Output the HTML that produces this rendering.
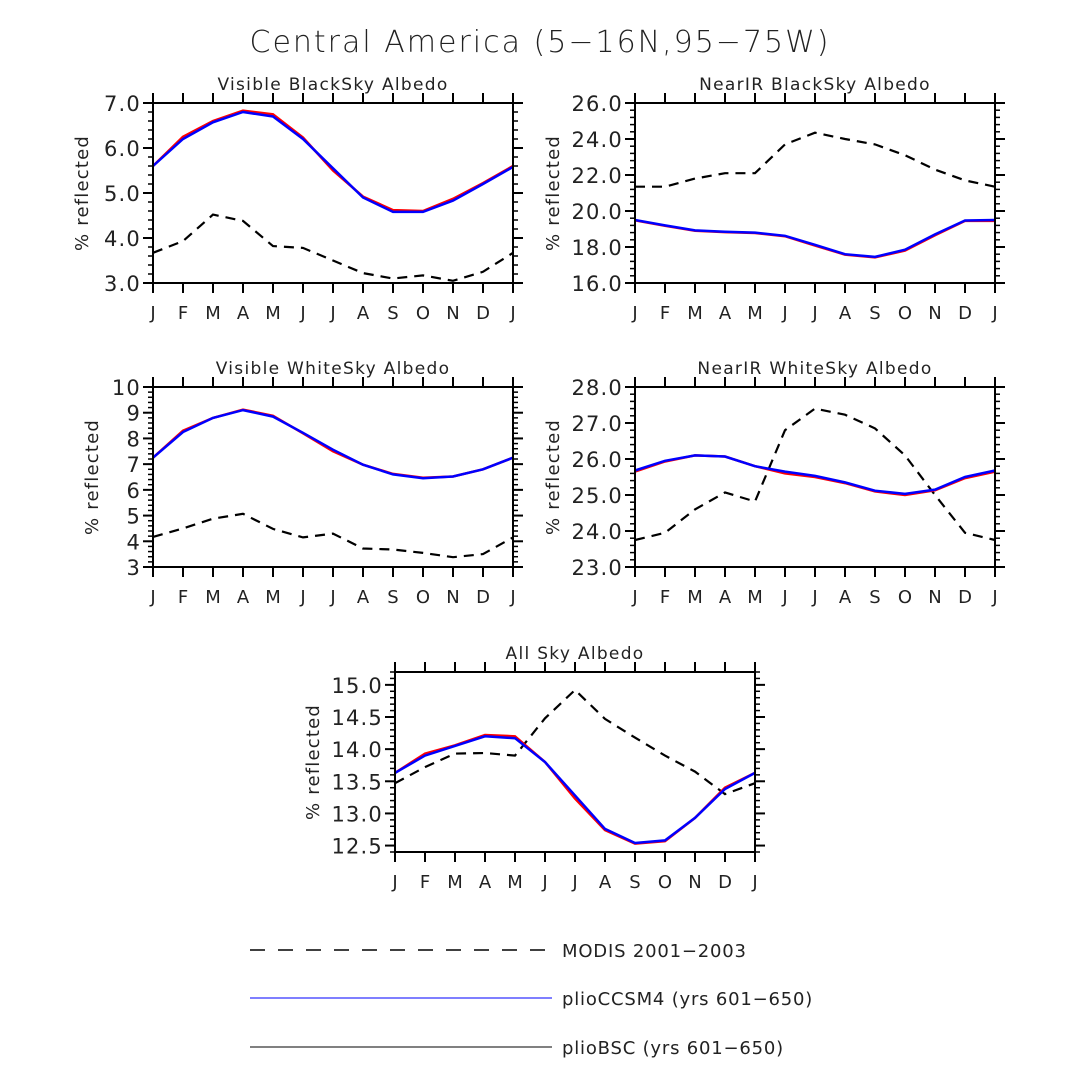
<!DOCTYPE html>
<html><head><meta charset="utf-8"><style>
html,body{margin:0;padding:0;background:#fff;}
svg{display:block;font-family:"DejaVu Sans","Liberation Sans",sans-serif;}
</style></head><body>
<svg id="chart" width="1080" height="1080" viewBox="0 0 1080 1080" xmlns="http://www.w3.org/2000/svg">
<rect width="1080" height="1080" fill="#fff"/>
<text x="540" y="52" text-anchor="middle" font-size="30" font-weight="200" letter-spacing="2" fill="#222">Central America (5−16N,95−75W)</text>
<g>
<line x1="250" y1="950" x2="552" y2="950" stroke="#000" stroke-width="1.5" stroke-dasharray="15,13"/>
<text x="562" y="957" font-size="18" letter-spacing="0.8" fill="#222">MODIS 2001−2003</text>
<line x1="250" y1="998" x2="552" y2="998" stroke="#3333ff" stroke-width="1.2"/>
<text x="562" y="1005" font-size="18" letter-spacing="0.8" fill="#222">plioCCSM4 (yrs 601−650)</text>
<line x1="250" y1="1047" x2="552" y2="1047" stroke="#000" stroke-width="1"/>
<text x="562" y="1054" font-size="18" letter-spacing="0.8" fill="#222">plioBSC (yrs 601−650)</text>
</g>
</svg>
<script>
const months = ["J","F","M","A","M","J","J","A","S","O","N","D","J"];
const titles = ["Visible BlackSky Albedo","NearIR BlackSky Albedo","Visible WhiteSky Albedo","NearIR WhiteSky Albedo","All Sky Albedo"];
const modis1 = [3.67,3.93,4.52,4.38,3.82,3.78,3.5,3.22,3.1,3.17,3.05,3.25,3.67];
const red1 = [5.6,6.25,6.6,6.83,6.75,6.23,5.5,4.92,4.62,4.6,4.87,5.22,5.6];
const blue1 = [5.6,6.2,6.57,6.8,6.7,6.2,5.55,4.9,4.58,4.58,4.83,5.2,5.58];
const modis2 = [21.35,21.35,21.8,22.1,22.1,23.7,24.35,24.0,23.7,23.1,22.3,21.7,21.35];
const red2 = [19.48,19.18,18.9,18.83,18.78,18.6,18.08,17.58,17.42,17.8,18.65,19.45,19.45];
const blue2 = [19.5,19.2,18.92,18.85,18.8,18.62,18.12,17.6,17.45,17.85,18.7,19.47,19.5];
const modis3 = [4.17,4.5,4.88,5.07,4.48,4.15,4.3,3.72,3.68,3.55,3.38,3.5,4.15];
const red3 = [7.25,8.3,8.8,9.12,8.88,8.2,7.5,6.98,6.62,6.47,6.52,6.8,7.25];
const blue3 = [7.25,8.25,8.8,9.1,8.85,8.22,7.56,6.98,6.6,6.45,6.52,6.8,7.25];
const modis4 = [23.75,23.95,24.6,25.07,24.82,26.8,27.4,27.23,26.85,26.1,25.0,23.95,23.75];
const red4 = [25.65,25.93,26.1,26.07,25.8,25.6,25.5,25.33,25.1,25.0,25.13,25.47,25.65];
const blue4 = [25.68,25.95,26.1,26.07,25.8,25.65,25.53,25.35,25.12,25.03,25.15,25.5,25.68];
const modis5 = [13.47,13.72,13.93,13.94,13.9,14.48,14.92,14.47,14.18,13.9,13.65,13.3,13.47];
const red5 = [13.63,13.93,14.06,14.22,14.2,13.8,13.23,12.74,12.53,12.57,12.93,13.4,13.63];
const blue5 = [13.63,13.9,14.05,14.2,14.17,13.8,13.28,12.76,12.54,12.58,12.93,13.38,13.63];
const yTicks1 = ["3.0","4.0","5.0","6.0","7.0"];
const yTicks2 = ["16.0","18.0","20.0","22.0","24.0","26.0"];
const yTicks3 = ["3","4","5","6","7","8","9","10"];
const yTicks4 = ["23.0","24.0","25.0","26.0","27.0","28.0"];
const yTicks5 = ["12.5","13.0","13.5","14.0","14.5","15.0"];

const NS="http://www.w3.org/2000/svg";
const svg=document.getElementById('chart');
function mk(tag,attrs,parent){const e=document.createElementNS(NS,tag);for(const k in attrs)e.setAttribute(k,attrs[k]);(parent||svg).appendChild(e);return e;}

const panels=[
 {x:153,y:103,min:3,max:7,minor:0.2,ticks:yTicks1,m:modis1,r:red1,b:blue1,name:"visible-blacksky",yo:71},
 {x:635,y:103,min:16,max:26,minor:0.4,ticks:yTicks2,m:modis2,r:red2,b:blue2,name:"nearir-blacksky",yo:82},
 {x:153,y:387,min:3,max:10,minor:0.2,ticks:yTicks3,m:modis3,r:red3,b:blue3,name:"visible-whitesky",yo:61},
 {x:635,y:387,min:23,max:28,minor:0.2,ticks:yTicks4,m:modis4,r:red4,b:blue4,name:"nearir-whitesky",yo:82},
 {x:395,y:672,min:12.4,max:15.2,minor:0.1,ticks:yTicks5,m:modis5,r:red5,b:blue5,name:"allsky",yo:82}
];
const W=360,H=180;
panels.forEach((p,pi)=>{
 const g=mk('g',{});
 
 
 const xs=i=>p.x+i*W/(months.length-1);
 const ys=v=>p.y+H-(v-p.min)/(p.max-p.min)*H;
 const t=mk('text',{x:p.x+W/2,y:p.y-13,'text-anchor':'middle','font-size':'17','letter-spacing':'1.3',fill:'#222'},g);
 t.textContent=titles[pi];
 
 
 const yl=mk('text',{x:0,y:0,'text-anchor':'middle','font-size':'18','letter-spacing':'1.2',fill:'#222',transform:`translate(${p.x-p.yo+6},${p.y+H/2}) rotate(-90)`},g);
 yl.textContent='% reflected';
 
 
 months.forEach((m,i)=>{
  const X=xs(i);
  mk('line',{x1:X,y1:p.y+H,x2:X,y2:p.y+H+10,stroke:'#000','stroke-width':2},g);
  mk('line',{x1:X,y1:p.y,x2:X,y2:p.y-10,stroke:'#000','stroke-width':2},g);
  const tl=mk('text',{x:X,y:p.y+H+36,'text-anchor':'middle','font-size':'18',fill:'#222'},g);
  tl.textContent=m;
  
  
 });
 const n=Math.round((p.max-p.min)/p.minor);
 for(let k=0;k<=n;k++){
  const Y=ys(p.min+k*p.minor);
  mk('line',{x1:p.x,y1:Y,x2:p.x-5,y2:Y,stroke:'#000','stroke-width':1.5},g);
  mk('line',{x1:p.x+W,y1:Y,x2:p.x+W+5,y2:Y,stroke:'#000','stroke-width':1.5},g);
 }
 p.ticks.forEach(s=>{
  const Y=ys(parseFloat(s));
  mk('line',{x1:p.x,y1:Y,x2:p.x-10,y2:Y,stroke:'#000','stroke-width':2},g);
  mk('line',{x1:p.x+W,y1:Y,x2:p.x+W+10,y2:Y,stroke:'#000','stroke-width':2},g);
  const tl=mk('text',{x:p.x-12,y:Y+8,'text-anchor':'end','font-size':'21','letter-spacing':'1.2',fill:'#222'},g);
  tl.textContent=s;
  
  
 });
 const pts=a=>a.map((v,i)=>xs(i).toFixed(1)+','+ys(v).toFixed(1)).join(' ');
 const lm=mk('polyline',{points:pts(p.m),fill:'none',stroke:'#000','stroke-width':2.2,'stroke-dasharray':'10,7'},g);
 
 
 const lr=mk('polyline',{points:pts(p.r),fill:'none',stroke:'#ff0000','stroke-width':2.5},g);
 
 
 const lb=mk('polyline',{points:pts(p.b),fill:'none',stroke:'#0000ff','stroke-width':2.5},g);
 
 
 const fr=mk('rect',{x:p.x,y:p.y,width:W,height:H,fill:'none',stroke:'#000','stroke-width':2},g);
 
 
});
</script>
</body></html>
